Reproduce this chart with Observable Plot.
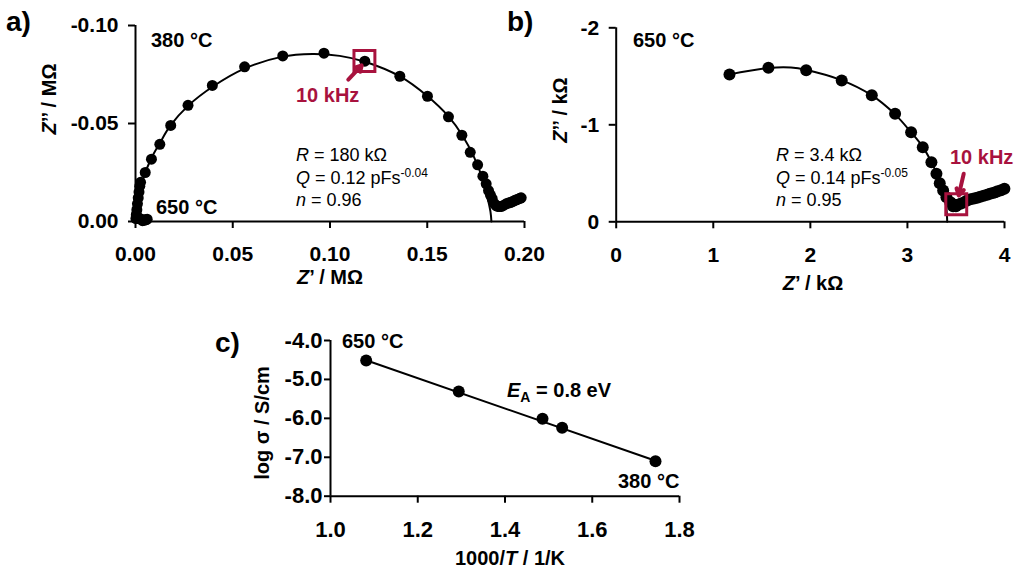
<!DOCTYPE html>
<html>
<head>
<meta charset="utf-8">
<script src="https://cdn.jsdelivr.net/npm/d3@7"></script>
<script src="https://cdn.jsdelivr.net/npm/@observablehq/plot@0.6"></script>
<style>
  body { margin: 0; background: white; }
  #wrap { position: relative; width: 1024px; height: 574px; overflow: hidden; font-family: "Liberation Sans", Arial, sans-serif; color: black; }
  #wrap svg { position: absolute; overflow: visible; }
  .t { position: absolute; white-space: nowrap; transform: translateY(-50%); line-height: 1; }
  .b { font-weight: bold; font-size: 20px; }
  .r { font-size: 18px; }
  .red { color: #a8123e; }
  .panel { font-weight: bold; font-size: 28px; }
  .xt { position: absolute; white-space: nowrap; transform: translate(-50%, -50%); font-weight: bold; font-size: 20px; line-height: 1; }
  .yt { position: absolute; white-space: nowrap; transform: translate(-50%, -50%) rotate(-90deg); font-weight: bold; font-size: 20px; line-height: 1; }
  sup { font-size: 12px; vertical-align: 7px; line-height: 0; }
  sub { font-size: 14px; vertical-align: -5px; line-height: 0; }
</style>
</head>
<body>
<div id="wrap"></div>
<script>
// ---- panel a: 380 °C impedance, Z' and Z'' in MOhm ----
const a380 = [
  [0.0969, -0.0859], [0.0757, -0.0845], [0.0561, -0.0789], [0.0395, -0.0694],
  [0.0270, -0.0593], [0.0181, -0.0490], [0.0125, -0.0394], [0.0082, -0.0318],
  [0.0050, -0.0250], [0.0026, -0.0200], [0.0022, -0.0180], [0.0018, -0.0150],
  [0.0014, -0.0120], [0.0010, -0.0090], [0.0007, -0.0060], [0.0004, -0.0035],
  [0.0002, -0.0015],
  [0.1179, -0.0818], [0.1359, -0.0741], [0.1501, -0.0639], [0.1609, -0.0534],
  [0.1678, -0.0440], [0.1721, -0.0353], [0.1759, -0.0289], [0.1786, -0.0231],
  [0.1803, -0.0192], [0.1815, -0.0158], [0.1825, -0.0135], [0.1834, -0.0116],
  [0.1846, -0.0090], [0.1855, -0.0080], [0.1863, -0.0077], [0.1872, -0.0076],
  [0.1882, -0.0077], [0.1894, -0.0083], [0.1906, -0.0090], [0.1917, -0.0094],
  [0.1928, -0.0097], [0.1939, -0.0102], [0.1949, -0.0107], [0.1959, -0.0111],
  [0.1969, -0.0115], [0.1977, -0.0118], [0.1983, -0.0121]
];
const a650 = [
  [0.0012, -0.0015], [0.0020, -0.0016], [0.0030, -0.0012], [0.0036, -0.0004],
  [0.0045, -0.0006], [0.0055, -0.0010], [0.0060, -0.0012]
];
const aFit = [
  [0, 0], [0.0015, -0.012], [0.004, -0.022], [0.008, -0.032], [0.0125, -0.040],
  [0.018, -0.049], [0.027, -0.059], [0.040, -0.069], [0.056, -0.078], [0.075, -0.084],
  [0.091, -0.0855], [0.105, -0.0845], [0.118, -0.0815], [0.136, -0.074], [0.150, -0.064],
  [0.161, -0.0535], [0.168, -0.044], [0.174, -0.033], [0.178, -0.023], [0.181, -0.012],
  [0.1825, -0.005], [0.183, 0]
];
const aMarker = [[0.1177, -0.0819]];           // 10 kHz point
const aArrow = [[0.1094, -0.0724, 0.1163, -0.0796]];
const aTicksX = [0, 0.05, 0.10, 0.15, 0.20];
const aTicksY = [0, -0.05, -0.10];

// ---- panel b: 650 °C impedance, kOhm ----
const b650 = [
  [1.167, -1.519], [1.568, -1.588], [1.957, -1.563], [2.323, -1.457], [2.633, -1.305],
  [2.873, -1.113], [3.038, -0.924], [3.158, -0.769], [3.247, -0.614], [3.299, -0.495],
  [3.333, -0.398], [3.368, -0.323], [3.402, -0.254], [3.443, -0.202], [3.470, -0.160],
  [3.477, -0.178], [3.500, -0.160], [3.510, -0.172], [3.546, -0.186], [3.580, -0.200],
  [3.615, -0.220], [3.650, -0.232], [3.685, -0.240], [3.718, -0.247], [3.750, -0.258],
  [3.785, -0.268], [3.821, -0.278], [3.850, -0.288], [3.880, -0.296], [3.906, -0.305],
  [3.930, -0.314], [3.965, -0.326], [3.999, -0.340]
];
const bFit = [
  [1.17, -1.52], [1.57, -1.585], [1.80, -1.59], [1.96, -1.565], [2.32, -1.46],
  [2.63, -1.305], [2.87, -1.11], [3.04, -0.92], [3.16, -0.77], [3.25, -0.61],
  [3.32, -0.45], [3.37, -0.30], [3.40, -0.15], [3.41, 0]
];
const bMarker = [[3.503, -0.181]];
const bArrow = [[3.580, -0.495, 3.528, -0.271]];
const bTicksX = [0, 1, 2, 3, 4];
const bTicksY = [0, -1, -2];

// ---- panel c: Arrhenius plot ----
const cInvT = [1.0818, 1.294, 1.486, 1.531, 1.745];
const cLogSigma = [-4.514, -5.311, -6.013, -6.244, -7.103];
const cFit = [[1.08, -4.50], [1.745, -7.09]];
const cTicksX = [1.0, 1.2, 1.4, 1.6, 1.8];
const cTicksY = [-4, -5, -6, -7, -8];

const red = "#a8123e";
const style = {
  fontFamily: "'Liberation Sans', Arial, sans-serif",
  fontSize: "21px",
  fontWeight: "bold",
  background: "transparent",
  color: "black",
  overflow: "visible"
};
const px = d => d[0], py = d => d[1];

const wrap = document.getElementById("wrap");
function place(svg, left, top) {
  svg.style.left = left + "px";
  svg.style.top = top + "px";
  wrap.appendChild(svg);
}
function text(html, cls, left, top) {
  const div = document.createElement("div");
  div.className = cls;
  div.innerHTML = html;
  div.style.left = left + "px";
  div.style.top = top + "px";
  wrap.appendChild(div);
}

// panel a
place(Plot.plot({
  width: 530, height: 300,
  marginLeft: 135, marginRight: 6, marginTop: 25, marginBottom: 79,
  x: {domain: [0, 0.2], label: null},
  y: {domain: [0, -0.1], label: null},
  style,
  marks: [
    Plot.axisX({ticks: aTicksX, tickFormat: d => d.toFixed(2), tickSize: 7, tickPadding: 18, strokeWidth: 2, label: null}),
    Plot.axisY({ticks: aTicksY, tickFormat: d => d.toFixed(2), tickSize: 7, tickPadding: 10, strokeWidth: 2, label: null}),
    Plot.ruleX([0], {strokeWidth: 2}),
    Plot.ruleY([0], {strokeWidth: 2}),
    Plot.line(aFit, {x: px, y: py, curve: "catmull-rom", strokeWidth: 2}),
    Plot.dot(a380, {x: px, y: py, r: 5.5, fill: "black"}),
    Plot.dot(a650, {x: px, y: py, r: 5.5, fill: "black"}),
    Plot.dot(aMarker, {x: px, y: py, symbol: "square", r: 11.8, stroke: red, strokeWidth: 3, fill: "none"}),
    Plot.arrow(aArrow, {x1: d => d[0], y1: d => d[1], x2: d => d[2], y2: d => d[3], stroke: red, strokeWidth: 4, headLength: 8})
  ]
}), 0, 0);

// panel b
place(Plot.plot({
  width: 494, height: 300,
  marginLeft: 85.7, marginRight: 20, marginTop: 27.3, marginBottom: 78.7,
  x: {domain: [0, 4], label: null},
  y: {domain: [0, -2], label: null},
  style,
  marks: [
    Plot.axisX({ticks: bTicksX, tickFormat: d => String(d), tickSize: 7, tickPadding: 18, strokeWidth: 2, label: null}),
    Plot.axisY({ticks: bTicksY, tickFormat: d => String(d), tickSize: 7, tickPadding: 10, strokeWidth: 2, label: null}),
    Plot.ruleX([0], {strokeWidth: 2}),
    Plot.ruleY([0], {strokeWidth: 2}),
    Plot.line(bFit, {x: px, y: py, curve: "catmull-rom", strokeWidth: 2}),
    Plot.dot(b650, {x: px, y: py, r: 6, fill: "black"}),
    Plot.dot(bMarker, {x: px, y: py, symbol: "square", r: 11.8, stroke: red, strokeWidth: 3, fill: "none"}),
    Plot.arrow(bArrow, {x1: d => d[0], y1: d => d[1], x2: d => d[2], y2: d => d[3], stroke: red, strokeWidth: 4, headLength: 8})
  ]
}), 530, 0);

// panel c
place(Plot.plot({
  width: 500, height: 264,
  marginLeft: 130, marginRight: 21, marginTop: 30, marginBottom: 78.3,
  x: {domain: [1.0, 1.8], label: null},
  y: {domain: [-8, -4], label: null},
  style: {...style, fontSize: "22px"},
  marks: [
    Plot.axisX({ticks: cTicksX, tickFormat: d => d.toFixed(1), tickSize: 7, tickPadding: 18, strokeWidth: 2, label: null}),
    Plot.axisY({ticks: cTicksY, tickFormat: d => d.toFixed(1), tickSize: 6, tickPadding: 2, strokeWidth: 2, label: null}),
    Plot.ruleX([1.0], {strokeWidth: 2}),
    Plot.ruleY([-8], {strokeWidth: 2}),
    Plot.line(cFit, {x: px, y: py, strokeWidth: 2}),
    Plot.dot(cInvT, {x: d => d, y: (d, i) => cLogSigma[i], r: 6, fill: "black"})
  ]
}), 200, 310);

// labels, panel a
text("a)", "t panel", 6, 22);
text("380 °C", "t b", 151, 40);
text("650 °C", "t b", 156, 207);
text("10 kHz", "t b red", 296, 95);
text("<i>R</i> = 180 kΩ", "t r", 296, 155);
text("<i>Q</i> = 0.12 pFs<sup>-0.04</sup>", "t r", 296, 178);
text("<i>n</i> = 0.96", "t r", 296, 200);
text("<i>Z</i>’’ / MΩ", "yt", 49, 99);
text("<i>Z</i>’ / MΩ", "xt", 330, 277);

// labels, panel b
text("b)", "t panel", 507, 22);
text("650 °C", "t b", 633, 40);
text("10 kHz", "t b red", 950, 157);
text("<i>R</i> = 3.4 kΩ", "t r", 776, 155);
text("<i>Q</i> = 0.14 pFs<sup>-0.05</sup>", "t r", 776, 178);
text("<i>n</i> = 0.95", "t r", 776, 200);
text("<i>Z</i>’’ / kΩ", "yt", 560, 110);
text("<i>Z</i>’ / kΩ", "xt", 813, 283);

// labels, panel c
text("c)", "t panel", 215, 343);
text("650 °C", "t b", 342, 341);
text("<i>E</i><sub>A</sub> = 0.8 eV", "t b", 507, 390);
text("380 °C", "t b", 618, 481);
text("log σ / S/cm", "yt", 262, 423);
text("1000/<i>T</i> / 1/K", "xt", 510, 558);
</script>
</body>
</html>
